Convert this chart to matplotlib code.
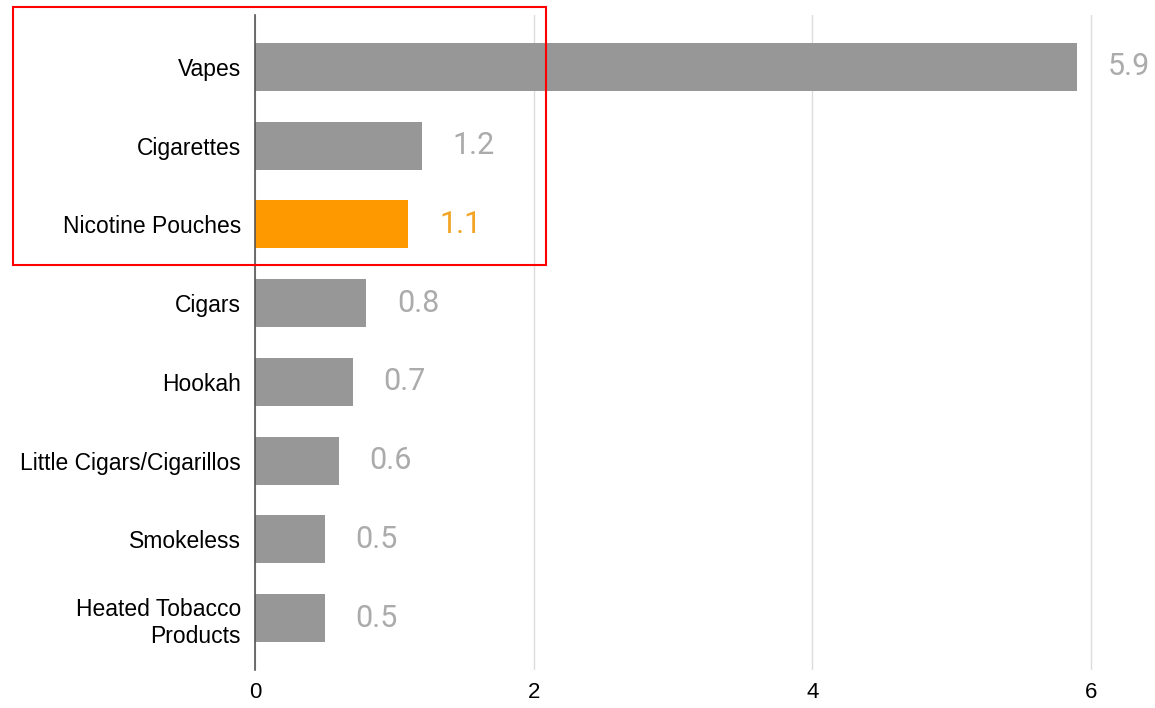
import matplotlib
matplotlib.use("Agg")
import matplotlib.pyplot as plt
from matplotlib.patches import Rectangle

products = ["Vapes", "Cigarettes", "Nicotine Pouches", "Cigars", "Hookah",
            "Little Cigars/Cigarillos", "Smokeless", "Heated Tobacco\nProducts"]
values = [5.9, 1.2, 1.1, 0.8, 0.7, 0.6, 0.5, 0.5]
highlight = "Nicotine Pouches"
xticks = [0, 2, 4, 6]

gray = "#979797"
orange = "#ff9900"

plt.rcParams['font.family'] = ['Liberation Sans', 'DejaVu Sans']

fig = plt.figure(figsize=(11.55, 7.08), dpi=100)
ax = fig.add_axes([255 / 1155, 38 / 708, 864 / 1155, 655 / 708])

ypos = list(range(len(products)))
colors = [orange if p == highlight else gray for p in products]
ax.barh(ypos, values, height=0.61, color=colors, zorder=2)

# value labels
for y, v, p in zip(ypos, values, products):
    c = "#f2a524" if p == highlight else "#ababab"
    ax.text(v + 0.22, y, f"{v:.1f}", va="center", ha="left", fontsize=22,
            color=c, family=['Roboto', 'DejaVu Sans'],
            clip_on=False)

ax.set_xlim(0, 6.2)
ax.set_ylim(len(products) - 1 + 0.66, -0.66)
ax.set_yticks(ypos)
ax.set_yticklabels(products, fontsize=16.5, linespacing=1.25)
ax.set_xticks(xticks)
ax.set_xticklabels([str(t) for t in xticks], fontsize=16)
ax.tick_params(axis="both", length=0)
ax.tick_params(axis="y", pad=10)
ax.tick_params(axis="x", pad=9)

ax.grid(axis="x", color="#dcdcdc", linewidth=1, zorder=0)
for s in ["top", "right", "bottom"]:
    ax.spines[s].set_visible(False)
ax.spines["left"].set_color("#555555")
ax.spines["left"].set_linewidth(1.2)
ax.spines["left"].set_zorder(3)

# red highlight box around the top three rows
fig.patches.append(Rectangle((13 / 1155, 1 - 265 / 708), 533 / 1155, 258 / 708,
                             transform=fig.transFigure, fill=False,
                             edgecolor="red", linewidth=1.5))

fig.savefig("out.png", dpi=100)
